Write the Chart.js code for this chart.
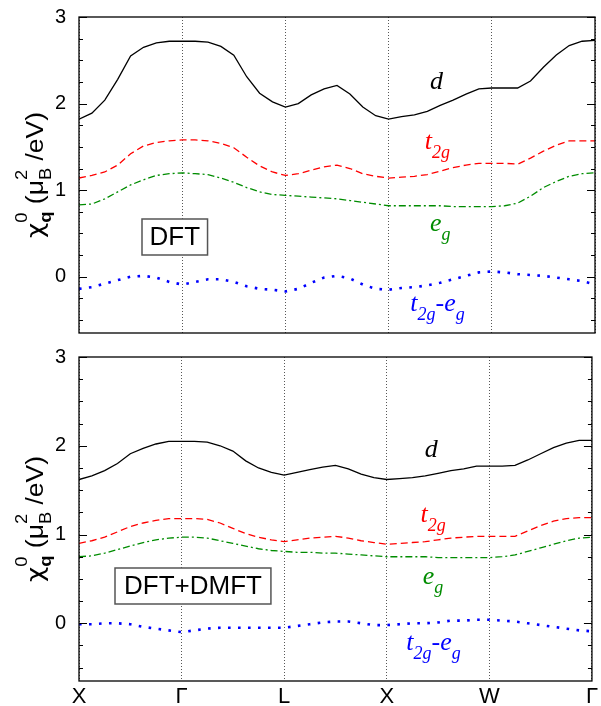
<!DOCTYPE html>
<html><head><meta charset="utf-8">
<script src="https://cdn.jsdelivr.net/npm/chart.js@4"></script>
<style>
html,body{margin:0;padding:0;background:#fff;}
#wrap{position:relative;width:601px;height:706px;overflow:hidden;background:#fff;}
canvas{position:absolute;left:0;}
</style></head><body>
<div id="wrap">
<canvas id="c1" width="601" height="350" style="top:0;width:601px;height:350px"></canvas>
<canvas id="c2" width="601" height="366" style="top:340px;width:601px;height:366px"></canvas>
</div>
<script>
// ---- path coordinate (X=0, Γ=1, L=2, X=3, W=4, Γ=5) ----
const kpath = [0,0.125,0.25,0.375,0.5,0.625,0.75,0.875,1,1.125,1.25,1.375,1.5,1.625,1.75,1.875,2,2.125,2.25,2.375,2.5,2.625,2.75,2.875,3,3.125,3.25,3.375,3.5,3.625,3.75,3.875,4,4.125,4.25,4.375,4.5,4.625,4.75,4.875,5];
const xTickLabels = ['X','Γ','L','X','W','Γ'];

// ---- DFT panel ----
const dftD   = [1.82,1.89,2.04,2.28,2.55,2.65,2.70,2.72,2.72,2.72,2.71,2.66,2.56,2.31,2.12,2.02,1.96,2.00,2.10,2.17,2.21,2.11,1.96,1.86,1.82,1.85,1.87,1.91,1.98,2.04,2.11,2.17,2.18,2.18,2.18,2.26,2.42,2.56,2.67,2.72,2.73];
const dftT2g = [1.14,1.17,1.21,1.29,1.42,1.51,1.55,1.57,1.58,1.58,1.57,1.54,1.49,1.38,1.28,1.21,1.17,1.19,1.23,1.27,1.29,1.25,1.19,1.16,1.14,1.15,1.16,1.18,1.22,1.26,1.29,1.31,1.31,1.31,1.30,1.37,1.45,1.52,1.57,1.57,1.57];
const dftEg  = [0.83,0.84,0.90,0.98,1.06,1.12,1.17,1.19,1.20,1.19,1.18,1.14,1.09,1.03,0.98,0.95,0.94,0.93,0.92,0.91,0.90,0.88,0.86,0.84,0.82,0.82,0.82,0.82,0.82,0.81,0.81,0.81,0.81,0.82,0.85,0.93,1.03,1.10,1.16,1.19,1.20];
const dftDiff= [-0.14,-0.12,-0.08,-0.04,0.00,0.01,-0.01,-0.06,-0.09,-0.06,-0.03,-0.03,-0.06,-0.11,-0.14,-0.15,-0.17,-0.14,-0.07,-0.01,0.01,-0.02,-0.09,-0.14,-0.15,-0.13,-0.12,-0.10,-0.07,-0.03,0.01,0.05,0.06,0.05,0.03,0.02,0.01,-0.01,-0.03,-0.05,-0.09];

// ---- DFT+DMFT panel ----
const dmftD   = [1.62,1.66,1.72,1.80,1.91,1.97,2.02,2.05,2.05,2.05,2.04,2.00,1.94,1.83,1.75,1.70,1.67,1.70,1.73,1.76,1.78,1.74,1.68,1.64,1.62,1.63,1.64,1.66,1.69,1.72,1.74,1.77,1.77,1.77,1.78,1.84,1.91,1.98,2.03,2.06,2.06];
const dmftT2g = [0.90,0.93,0.97,1.03,1.09,1.13,1.16,1.18,1.18,1.18,1.17,1.13,1.07,1.01,0.97,0.94,0.92,0.94,0.96,0.97,0.98,0.96,0.93,0.91,0.89,0.90,0.91,0.92,0.94,0.96,0.97,0.98,0.98,0.98,0.98,1.04,1.10,1.15,1.18,1.19,1.19];
const dmftEg  = [0.75,0.76,0.79,0.83,0.87,0.91,0.94,0.96,0.97,0.97,0.96,0.93,0.90,0.87,0.84,0.82,0.81,0.80,0.80,0.79,0.79,0.78,0.77,0.76,0.75,0.75,0.75,0.75,0.74,0.74,0.74,0.74,0.74,0.75,0.77,0.81,0.85,0.89,0.93,0.96,0.97];
const dmftDiff= [-0.01,-0.01,0.00,0.00,-0.01,-0.04,-0.06,-0.08,-0.10,-0.08,-0.06,-0.05,-0.05,-0.05,-0.05,-0.05,-0.05,-0.03,-0.01,0.01,0.02,0.02,0.00,-0.02,-0.02,-0.01,0.00,0.00,0.01,0.03,0.03,0.04,0.04,0.03,0.02,0.00,-0.02,-0.04,-0.06,-0.08,-0.09];

const yMin = -0.65, yMax = 3;

const seriesStyles = [
  {color:'#000000', width:1.3, dash:[]},
  {color:'#ff0000', width:1.3, dash:[7,4]},
  {color:'#008c00', width:1.3, dash:[7,3,2,3]},
  {color:'#0000ff', width:2.6, dash:[2.6,7.4]}
];

function mkDatasets(arrs){
  return arrs.map((vals,i)=>({
    data: kpath.map((k,j)=>({x:k, y:vals[j]})),
    borderColor: seriesStyles[i].color,
    borderWidth: seriesStyles[i].width,
    borderDash: seriesStyles[i].dash,
    borderCapStyle: 'butt',
    pointRadius: 0,
    tension: 0,
    fill: false
  }));
}

function drawParts(ctx, x, y, parts, color, big, small, subDy){
  ctx.fillStyle = color;
  ctx.textBaseline = 'alphabetic';
  ctx.textAlign = 'left';
  let cx = x;
  for (const [t, sub] of parts){
    ctx.font = sub ? small : big;
    ctx.fillText(t, cx, y + (sub ? subDy : 0));
    cx += ctx.measureText(t).width;
  }
}

function drawYTitle(ctx, cx, cy){
  const chi = '23px "DejaVu Sans"';
  const main = '23px "Liberation Sans"';
  const sm = '16px "Liberation Sans"';
  const smB = 'bold 16px "Liberation Sans"';
  const segs = [
    [{t:'χ', f:chi, dy:0}],
    [{t:'0', f:sm, dy:-16},{t:'q', f:smB, dy:8}],
    [{t:' (μ', f:main, dy:0}],
    [{t:'2', f:sm, dy:-16},{t:'B', f:sm, dy:8}],
    [{t:' /eV)', f:main, dy:0}]
  ];
  const stretch = 1.15;
  ctx.save();
  const widths = segs.map(g=>Math.max(...g.map(p=>{ctx.font=p.f; return ctx.measureText(p.t).width;})));
  const total = widths.reduce((a,b)=>a+b,0);
  ctx.translate(cx, cy);
  ctx.rotate(-Math.PI/2);
  ctx.scale(stretch, 1);
  ctx.fillStyle = '#000';
  ctx.textBaseline = 'alphabetic';
  ctx.textAlign = 'left';
  let x = -total/2;
  segs.forEach((g,i)=>{
    g.forEach(p=>{ctx.font=p.f; ctx.fillText(p.t, x, p.dy);});
    x += widths[i];
  });
  ctx.restore();
}

const panelPlugin = {
  id: 'panel',
  afterDatasetsDraw(chart, args, o){
    const ctx = chart.ctx, a = chart.chartArea;
    const ys = chart.scales.y, xs = chart.scales.x;
    ctx.save();
    // minor / major ticks, inward on both sides
    ctx.strokeStyle = '#000'; ctx.lineWidth = 1;
    for (let v = -0.5; v <= 3.0001; v += 0.25){
      const py = Math.round(ys.getPixelForValue(v)) + 0.5;
      const major = Math.abs(v - Math.round(v)) < 1e-6;
      const len = major ? 8 : 4;
      ctx.beginPath();
      ctx.moveTo(a.left, py); ctx.lineTo(a.left + len, py);
      ctx.moveTo(a.right, py); ctx.lineTo(a.right - len, py);
      ctx.stroke();
    }
    // frame
    ctx.lineWidth = 1.3;
    ctx.strokeRect(a.left, a.top, a.right - a.left, a.bottom - a.top);
    // curve labels
    const big = 'italic 26px "Liberation Serif"';
    const small = 'italic 18px "Liberation Serif"';
    o.labels.forEach(l=>{
      drawParts(ctx, xs.getPixelForValue(l.k), ys.getPixelForValue(l.v), l.parts, l.color, big, small, 9);
    });
    // boxed method label
    ctx.font = '26px "Liberation Sans"';
    const tw = ctx.measureText(o.box.text).width;
    const bx = o.box.x, by = o.box.y, bw = tw + 2*o.box.pad, bh = 36;
    ctx.fillStyle = '#fff';
    ctx.fillRect(bx, by, bw, bh);
    ctx.strokeStyle = '#555'; ctx.lineWidth = 1.5;
    ctx.strokeRect(bx, by, bw, bh);
    ctx.fillStyle = '#000'; ctx.textBaseline = 'middle'; ctx.textAlign = 'left';
    ctx.fillText(o.box.text, bx + o.box.pad, by + bh/2 + 1);
    // y title
    drawYTitle(ctx, 43, (a.top + a.bottom)/2);
    ctx.restore();
  }
};

function mkOptions(isBottom, padTop, padBottom, xHeight, labels, box){
  return {
    responsive: false,
    animation: false,
    devicePixelRatio: 1,
    layout: {padding: {left:0, right:6, top:padTop, bottom:padBottom}},
    plugins: {legend:{display:false}, tooltip:{enabled:false}, panel:{labels, box}},
    scales: {
      x: {
        type:'linear', min:0, max:5,
        afterFit: s => { s.height = xHeight; },
        ticks: {display:isBottom, stepSize:1, padding:3, color:'#000',
                font:{family:'Liberation Sans', size:22},
                callback: v => xTickLabels[Math.round(v)] ?? ''},
        grid: {display:true, drawTicks:false, color:'#444', lineWidth:0.9},
        border: {display:false, dash:[1,2]}
      },
      y: {
        type:'linear', min:yMin, max:yMax,
        afterFit: s => { s.width = 79; },
        ticks: {stepSize:1, includeBounds:false, padding:5, color:'#000',
                font:{family:'Liberation Sans', size:20},
                callback: v => String(v)},
        grid: {display:false},
        border: {display:false}
      }
    }
  };
}

const labels1 = [
  {k:3.40, v:2.17, color:'#000000', parts:[['d',0]]},
  {k:3.35, v:1.47, color:'#ff0000', parts:[['t',0],['2g',1]]},
  {k:3.40, v:0.53, color:'#008c00', parts:[['e',0],['g',1]]},
  {k:3.21, v:-0.40, color:'#0000ff', parts:[['t',0],['2g',1],['-e',0],['g',1]]}
];
const labels2 = [
  {k:3.37, v:1.87, color:'#000000', parts:[['d',0]]},
  {k:3.33, v:1.14, color:'#ff0000', parts:[['t',0],['2g',1]]},
  {k:3.35, v:0.44, color:'#008c00', parts:[['e',0],['g',1]]},
  {k:3.19, v:-0.30, color:'#0000ff', parts:[['t',0],['2g',1],['-e',0],['g',1]]}
];

new Chart(document.getElementById('c1'), {
  type:'line',
  data:{datasets: mkDatasets([dftD, dftT2g, dftEg, dftDiff])},
  options: mkOptions(false, 17, 4, 0, labels1, {text:'DFT', x:142, y:219, pad:7.5}),
  plugins:[panelPlugin]
});
new Chart(document.getElementById('c2'), {
  type:'line',
  data:{datasets: mkDatasets([dmftD, dmftT2g, dmftEg, dmftDiff])},
  options: mkOptions(true, 13, 0, 25, labels2, {text:'DFT+DMFT', x:115, y:228, pad:9}),
  plugins:[panelPlugin]
});
</script>
</body></html>
